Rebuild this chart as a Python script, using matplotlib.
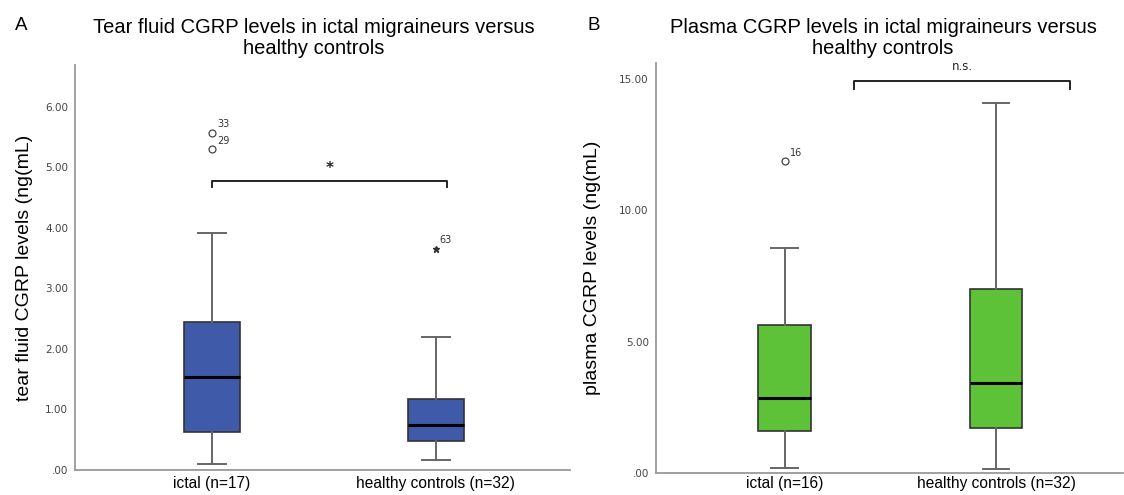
# boxplots de CGRP: lagrima e plasma, ictal vs controles
import matplotlib.pyplot as plt

plt.rcParams['font.family'] = ['Liberation Sans', 'DejaVu Sans']

grupos_tear = ["ictal (n=17)", "healthy controls (n=32)"]
grupos_plasma = ["ictal (n=16)", "healthy controls (n=32)"]

# estatisticas: [whisker baixo, Q1, mediana, Q3, whisker alto]
tear_ictal = [0.10, 0.62, 1.54, 2.45, 3.92]
tear_hc = [0.17, 0.48, 0.75, 1.17, 2.19]
plasma_ictal = [0.18, 1.61, 2.86, 5.63, 8.55]
plasma_hc = [0.16, 1.72, 3.43, 7.00, 14.06]

# outliers (valor, rotulo)
tear_ictal_out = [5.30, 5.57]
tear_ictal_out_lab = ["29", "33"]
tear_hc_extremo = [3.65]
tear_hc_extremo_lab = ["63"]
plasma_ictal_out = [11.85]
plasma_ictal_out_lab = ["16"]

tear_yticks = [0, 1, 2, 3, 4, 5, 6]
plasma_yticks = [0, 5, 10, 15]

azul = "#3f5aa8"
verde = "#5ec238"


def fmt(v):
    s = "%.2f" % v
    return s[1:] if s.startswith("0") else s


def stats(q, out):
    return dict(whislo=q[0], q1=q[1], med=q[2], q3=q[3], whishi=q[4], fliers=out)


def desenha(ax, st, cor, ylim, yticks, nomes, xpad):
    ax.bxp(st, positions=[1, 2], widths=0.25, patch_artist=True,
           boxprops=dict(facecolor=cor, edgecolor="#333333", linewidth=1.2),
           medianprops=dict(color="black", linewidth=2.2),
           whiskerprops=dict(color="#666666", linewidth=1.4),
           capprops=dict(color="#666666", linewidth=1.4),
           flierprops=dict(marker="o", markersize=5, markerfacecolor="white",
                           markeredgecolor="#444444", markeredgewidth=0.9))
    ax.set_xlim(0.39, 2.6)
    ax.set_ylim(0, ylim)
    ax.set_yticks(yticks)
    ax.set_yticklabels([fmt(v) for v in yticks], fontsize=7.5, color="#444444",
                       family="DejaVu Sans")
    ax.set_xticks([1, 2])
    ax.set_xticklabels(nomes, fontsize=11.2)
    ax.tick_params(length=0, pad=5)
    ax.tick_params(axis="x", pad=xpad)
    for s in ["top", "right"]:
        ax.spines[s].set_visible(False)
    for s in ["left", "bottom"]:
        ax.spines[s].set_color("#999999")
        ax.spines[s].set_linewidth(1.3)


def colchete(ax, x0, x1, y, h, txt, ty, **kw):
    ax.plot([x0, x0, x1, x1], [y - h, y, y, y - h], color="#222222", linewidth=1.4)
    ax.text((x0 + x1) / 2, ty, txt, ha="center", va="center",
            family="DejaVu Sans", color="#222222", **kw)


fig = plt.figure(figsize=(11.24, 4.95), dpi=100)

# painel A
ax1 = fig.add_axes([0.0667, 0.0505, 0.4404, 0.8182])
desenha(ax1, [stats(tear_ictal, tear_ictal_out), stats(tear_hc, [])], azul,
        6.69, tear_yticks, grupos_tear, 4)
ax1.plot([2] * len(tear_hc_extremo), tear_hc_extremo, linestyle="none", marker="*",
         markersize=5, color="#333333")
for v, t in zip(tear_ictal_out, tear_ictal_out_lab):
    ax1.annotate(t, (1, v), xytext=(4, 4), textcoords="offset points", fontsize=7,
                 family="DejaVu Sans", color="#333333")
for v, t in zip(tear_hc_extremo, tear_hc_extremo_lab):
    ax1.annotate(t, (2, v), xytext=(3, 4), textcoords="offset points", fontsize=7,
                 family="DejaVu Sans", color="#333333")
colchete(ax1, 1, 2.05, 4.78, 0.1, "*", 4.98, fontsize=11, fontweight="bold")
ax1.set_ylabel("tear fluid CGRP levels (ng(mL)", fontsize=14)
ax1.yaxis.set_label_coords(-0.085, 0.5)

# painel B
ax2 = fig.add_axes([0.5834, 0.0444, 0.4156, 0.8283])
desenha(ax2, [stats(plasma_ictal, plasma_ictal_out), stats(plasma_hc, [])], verde,
        15.59, plasma_yticks, grupos_plasma, 2)
for v, t in zip(plasma_ictal_out, plasma_ictal_out_lab):
    ax2.annotate(t, (1, v), xytext=(4, 4), textcoords="offset points", fontsize=7,
                 family="DejaVu Sans", color="#333333")
colchete(ax2, 1.33, 2.35, 14.92, 0.3, "n.s.", 15.45, fontsize=8.5)
ax2.set_ylabel("plasma CGRP levels (ng(mL)", fontsize=14)
ax2.yaxis.set_label_coords(-0.118, 0.5)

fig.text(314 / 1124, 1 - 38 / 495, "Tear fluid CGRP levels in ictal migraineurs versus\nhealthy controls",
         ha="center", va="center", fontsize=14.5, linespacing=1.15)
fig.text(883 / 1124, 1 - 38 / 495, "Plasma CGRP levels in ictal migraineurs versus\nhealthy controls",
         ha="center", va="center", fontsize=14.5, linespacing=1.15)
fig.text(21 / 1124, 1 - 25 / 495, "A", ha="center", va="center", fontsize=13.5)
fig.text(594 / 1124, 1 - 25 / 495, "B", ha="center", va="center", fontsize=13.5)

fig.savefig("out.png", dpi=100)
